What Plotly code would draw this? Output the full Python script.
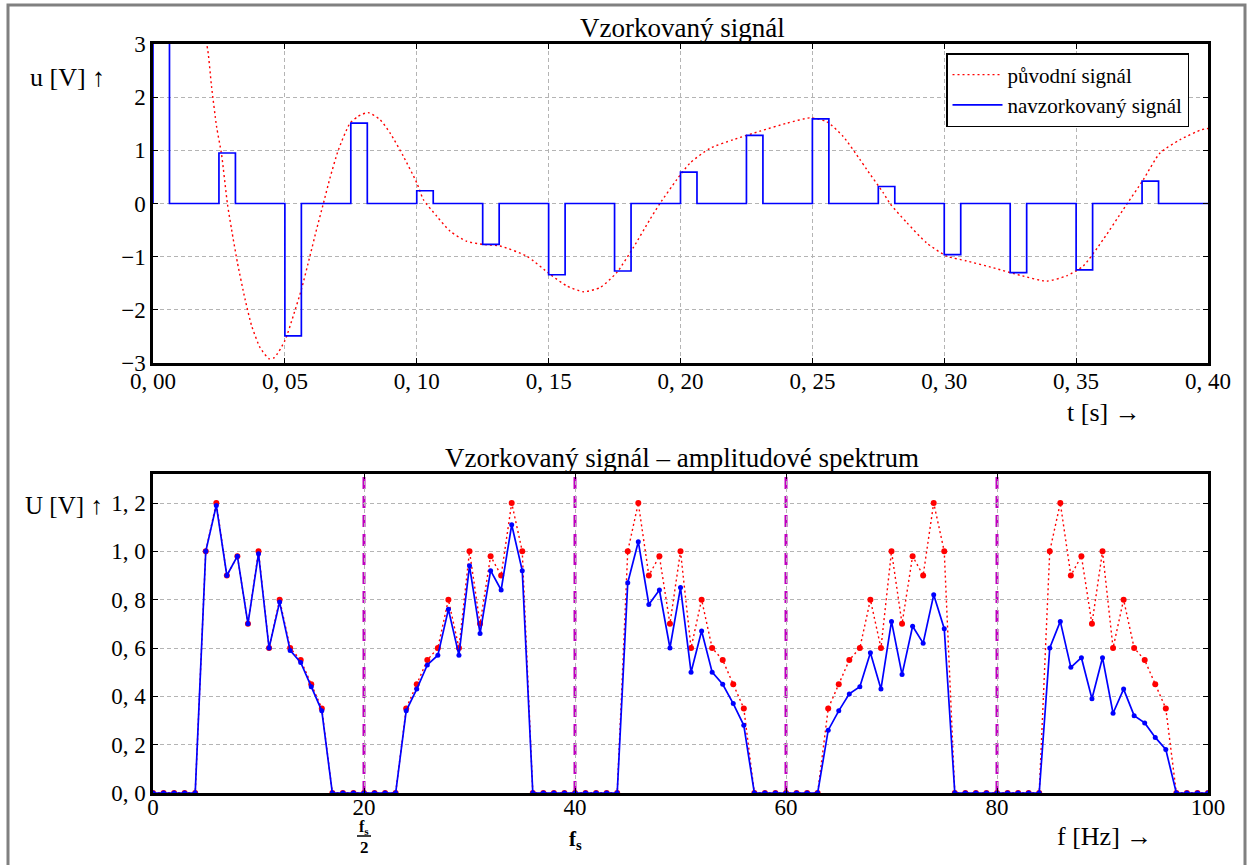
import plotly.graph_objects as go

# ---------------- data: top chart ----------------
# original (continuous) signal
orig_t = [0.0175, 0.0204, 0.0222, 0.0241, 0.0260, 0.0282, 0.0298, 0.0320, 0.0349, 0.0374,
          0.0406, 0.0440, 0.0460, 0.0500, 0.0532, 0.0563, 0.0595, 0.0620, 0.0646, 0.0671,
          0.0703, 0.0747, 0.0778, 0.0816, 0.0861, 0.0899, 0.0949, 0.1000, 0.1025, 0.1076,
          0.1126, 0.1189, 0.1252, 0.1316, 0.1417, 0.1505, 0.1569, 0.1632, 0.1695, 0.1758,
          0.1821, 0.1884, 0.1922, 0.1986, 0.2036, 0.2112, 0.2200, 0.2301, 0.2403, 0.2491,
          0.2554, 0.2617, 0.2680, 0.2706, 0.2769, 0.2794, 0.2858, 0.2933, 0.3009, 0.3085,
          0.3186, 0.3287, 0.3388, 0.3464, 0.3527, 0.3603, 0.3679, 0.3755, 0.3818, 0.3894,
          0.3976, 0.4000]
orig_u = [3.30, 2.98, 2.20, 1.45, 0.92, 0.00, -0.49, -1.11, -1.80, -2.30,
          -2.71, -2.92, -2.90, -2.58, -2.11, -1.61, -0.99, -0.49, 0.00, 0.48,
          1.01, 1.51, 1.64, 1.71, 1.575, 1.325, 0.89, 0.39, 0.075, -0.24,
          -0.52, -0.71, -0.77, -0.80, -0.99, -1.33, -1.55, -1.66, -1.58, -1.30,
          -0.83, -0.30, 0.00, 0.45, 0.76, 1.04, 1.20, 1.36, 1.51, 1.61,
          1.54, 1.26, 0.83, 0.64, 0.20, 0.00, -0.36, -0.74, -0.99, -1.08,
          -1.21, -1.35, -1.46, -1.36, -1.175, -0.675, -0.11, 0.45, 0.95, 1.20,
          1.39, 1.41]

# sampled pulses (sample instants and held values)
sample_t = [0.000, 0.025, 0.050, 0.075, 0.100, 0.125, 0.150, 0.175,
            0.200, 0.225, 0.250, 0.275, 0.300, 0.325, 0.350, 0.375]
sample_u = [4.50, 0.95, -2.49, 1.51, 0.24, -0.77, -1.34, -1.27,
            0.59, 1.28, 1.59, 0.32, -0.96, -1.30, -1.25, 0.42]
pulse_width = 0.00625
t_end = 0.40

t_ticks = [0.00, 0.05, 0.10, 0.15, 0.20, 0.25, 0.30, 0.35, 0.40]
t_ticktext = ["0, 00", "0, 05", "0, 10", "0, 15", "0, 20", "0, 25", "0, 30", "0, 35", "0, 40"]
u_ticks = [-3, -2, -1, 0, 1, 2, 3]
u_ticktext = ["\u22123", "\u22122", "\u22121", "0", "1", "2", "3"]

# ---------------- data: bottom chart ----------------
spec_f = list(range(0, 101))
spec_orig = ([0, 0, 0, 0, 0] +
             [1.0, 1.2, 0.9, 0.98, 0.7, 1.0, 0.6, 0.8, 0.6, 0.55, 0.45, 0.35] +
             [0] * 7 +
             [0.35, 0.45, 0.55, 0.6, 0.8, 0.6, 1.0, 0.7, 0.98, 0.9, 1.2, 1.0] +
             [0] * 9 +
             [1.0, 1.2, 0.9, 0.98, 0.7, 1.0, 0.6, 0.8, 0.6, 0.55, 0.45, 0.35] +
             [0] * 7 +
             [0.35, 0.45, 0.55, 0.6, 0.8, 0.6, 1.0, 0.7, 0.98, 0.9, 1.2, 1.0] +
             [0] * 9 +
             [1.0, 1.2, 0.9, 0.98, 0.7, 1.0, 0.6, 0.8, 0.6, 0.55, 0.45, 0.35] +
             [0, 0, 0, 0])
spec_sampled = ([0, 0, 0, 0, 0] +
                [1.0, 1.19, 0.9, 0.98, 0.7, 0.99, 0.6, 0.79, 0.59, 0.54, 0.44, 0.34] +
                [0] * 7 +
                [0.34, 0.43, 0.53, 0.57, 0.76, 0.57, 0.94, 0.66, 0.92, 0.84, 1.11, 0.92] +
                [0] * 9 +
                [0.87, 1.04, 0.78, 0.84, 0.60, 0.85, 0.50, 0.67, 0.50, 0.45, 0.37, 0.28] +
                [0] * 7 +
                [0.26, 0.34, 0.41, 0.44, 0.58, 0.43, 0.71, 0.49, 0.69, 0.62, 0.82, 0.68] +
                [0] * 9 +
                [0.60, 0.71, 0.52, 0.56, 0.39, 0.56, 0.33, 0.43, 0.32, 0.29, 0.23, 0.18] +
                [0, 0, 0, 0])
alias_lines = [20, 40, 60, 80]
f_ticks = [0, 20, 40, 60, 80, 100]
f_ticktext = ["0", "20", "40", "60", "80", "100"]
U_ticks = [0.0, 0.2, 0.4, 0.6, 0.8, 1.0, 1.2]
U_ticktext = ["0, 0", "0, 2", "0, 4", "0, 6", "0, 8", "1, 0", "1, 2"]

# ---------------- build step line from samples ----------------
step_x, step_y = [], []
for t, v in zip(sample_t, sample_u):
    step_x += [t, t, t + pulse_width, t + pulse_width]
    step_y += [0, v, v, 0]
step_x.append(t_end)
step_y.append(0)

W, H = 1254, 865
FONT = "Liberation Serif"
px = lambda x: x / W
py = lambda y: 1 - y / H

fig = go.Figure()
fig.add_trace(go.Scatter(x=orig_t, y=orig_u, mode="lines", name="p\u016fvodn\u00ed sign\u00e1l",
                         line=dict(color="red", width=1.4, dash="2px,3px", shape="spline", smoothing=0.6),
                         xaxis="x", yaxis="y"))
fig.add_trace(go.Scatter(x=step_x, y=step_y, mode="lines", name="navzorkovan\u00fd sign\u00e1l",
                         line=dict(color="#0000ff", width=1.7),
                         xaxis="x", yaxis="y"))
fig.add_trace(go.Scatter(x=spec_f, y=spec_orig, mode="lines+markers", showlegend=False,
                         line=dict(color="red", width=1.4, dash="2px,3px"),
                         marker=dict(color="red", size=6),
                         xaxis="x2", yaxis="y2"))
fig.add_trace(go.Scatter(x=spec_f, y=spec_sampled, mode="lines+markers", showlegend=False,
                         line=dict(color="#0000ff", width=1.7),
                         marker=dict(color="#0000ff", size=5),
                         xaxis="x2", yaxis="y2"))

for f in alias_lines:
    fig.add_shape(type="line", xref="x2", yref="y2 domain", x0=f, x1=f, y0=0, y1=1,
                  line=dict(color="#bf00bf", width=3, dash="12px,7px"), layer="below")

axis_common = dict(showline=True, linewidth=2.5, linecolor="black", mirror="ticks",
                   ticks="inside", ticklen=5, tickwidth=1, tickcolor="black",
                   showgrid=True, gridcolor="#b4b4b4", gridwidth=1, griddash="4px,3px",
                   zeroline=False, automargin=False,
                   tickfont=dict(family=FONT, size=23, color="black"))

fig.update_layout(
    template="none",
    width=W, height=H, margin=dict(l=0, r=0, t=0, b=0, pad=0, autoexpand=False),
    paper_bgcolor="white", plot_bgcolor="white",
    font=dict(family=FONT, color="black"),
    xaxis=dict(domain=[px(153), px(1208)], anchor="y", range=[0, 0.4],
               tickvals=t_ticks, ticktext=t_ticktext, ticklabelstandoff=-4, **axis_common),
    yaxis=dict(domain=[py(363), py(44)], anchor="x", range=[-3, 3],
               tickvals=u_ticks, ticktext=u_ticktext, **axis_common),
    xaxis2=dict(domain=[px(153), px(1208)], anchor="y2", range=[0, 100],
                tickvals=f_ticks, ticktext=f_ticktext, ticklabelstandoff=-8, **axis_common),
    yaxis2=dict(domain=[py(793), py(474)], anchor="x2", range=[0, 1.32],
                tickvals=U_ticks, ticktext=U_ticktext, **axis_common),
    legend=dict(x=px(946), y=py(53), xanchor="left", yanchor="top",
                bgcolor="white", bordercolor="black", borderwidth=1.5,
                font=dict(family=FONT, size=21, color="black"),
                itemwidth=50, tracegroupgap=0),
    showlegend=True,
)

annots = [
    dict(text="Vzorkovan\u00fd sign\u00e1l", x=px(682), y=py(28), size=27),
    dict(text="Vzorkovan\u00fd sign\u00e1l \u2013 amplitudov\u00e9 spektrum", x=px(682), y=py(458), size=27),
    dict(text="u [V] \u2191", x=px(67), y=py(78), size=26),
    dict(text="t [s] \u2192", x=px(1104), y=py(412), size=26),
    dict(text="U [V] \u2191", x=px(64), y=py(505), size=25),
    dict(text="f [Hz] \u2192", x=px(1104), y=py(836), size=26),
    dict(text="<b>f<sub>s</sub></b>", x=px(364), y=py(827), size=16),
    dict(text="<b>2</b>", x=px(364), y=py(847), size=17),
    dict(text="<b>f<sub>s</sub></b>", x=px(575), y=py(840), size=21),
]
for a in annots:
    fig.add_annotation(text=a["text"], x=a["x"], y=a["y"], xref="paper", yref="paper",
                       xanchor="center", yanchor="middle", showarrow=False,
                       font=dict(family=FONT, size=a["size"], color="black"))

# fraction bar for fs/2
fig.add_shape(type="line", xref="paper", yref="paper", x0=px(357), x1=px(371),
              y0=py(836), y1=py(836), line=dict(color="black", width=1.5))
# outer gray frame
fig.add_shape(type="rect", xref="paper", yref="paper", x0=px(8), x1=px(1245),
              y0=-0.05, y1=py(5), line=dict(color="#808080", width=3))

fig.write_html("out.html", config={"displayModeBar": False},
               post_script="document.body.style.margin='0px';")
